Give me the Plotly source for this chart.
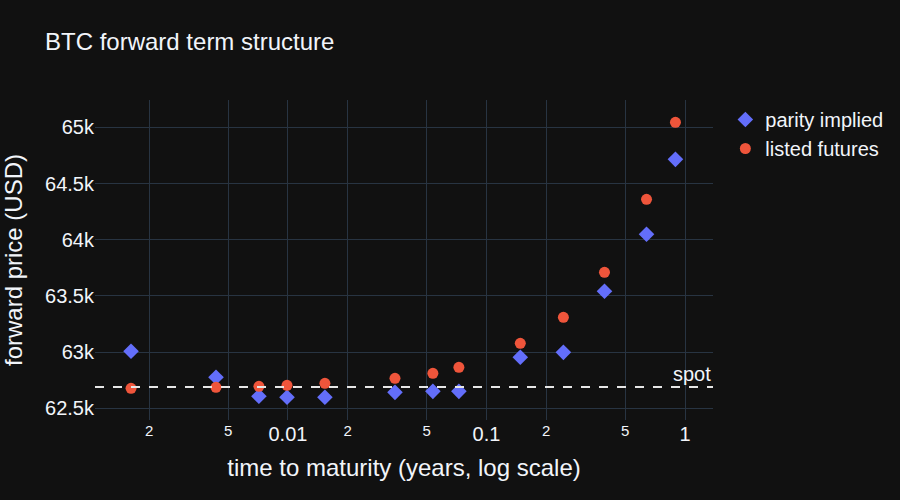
import plotly.graph_objects as go

tenor_years = [0.00162, 0.00434, 0.00714, 0.00989, 0.01535, 0.0346, 0.0537, 0.0726,
               0.148, 0.244, 0.393, 0.640, 0.895]
parity_implied = [63007, 62776, 62607, 62598, 62598, 62642, 62651, 62651,
                  62954, 62998, 63541, 64048, 64715]
listed_futures = [62678, 62687, 62696, 62705, 62722, 62767, 62811, 62865,
                  63078, 63310, 63710, 64359, 65044]
spot_price = 62690

fig = go.Figure()
fig.add_trace(go.Scatter(x=tenor_years, y=parity_implied, mode="markers",
                         name="parity implied",
                         marker=dict(symbol="diamond", size=12, color="#636efa")))
fig.add_trace(go.Scatter(x=tenor_years, y=listed_futures, mode="markers",
                         name="listed futures",
                         marker=dict(symbol="circle", size=11, color="#EF553B")))
fig.add_hline(y=spot_price, line=dict(color="#e6e6e6", width=2, dash="dash"),
              annotation_text="spot", annotation_position="top right",
              annotation_font=dict(size=20, color="#f2f5fa"))

fig.update_layout(
    template="plotly_dark",
    width=900, height=500,
    title=dict(text="BTC forward term structure", font=dict(size=24)),
    margin=dict(l=95, r=187, t=100, b=80),
    font=dict(size=20, family="Arial, Liberation Sans, sans-serif"),
    legend=dict(font=dict(size=20)),
)
fig.update_xaxes(type="log", dtick="D2", range=[-2.972, 0.141],
                 title=dict(text="time to maturity (years, log scale)", font=dict(size=24)),
                 tickfont=dict(size=20))
fig.update_yaxes(range=[62396, 65243], title=dict(text="forward price (USD)", font=dict(size=24)),
                 tickfont=dict(size=20))

fig.write_html("out.html", config={"displayModeBar": False},
               post_script="document.body.style.margin='0';")
